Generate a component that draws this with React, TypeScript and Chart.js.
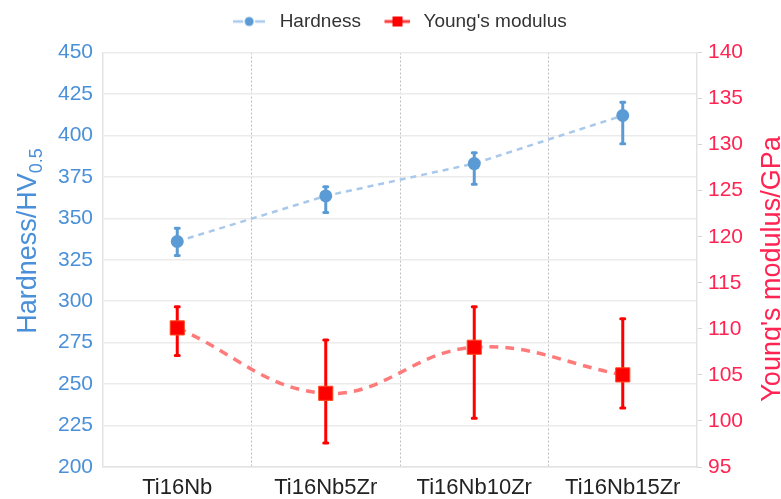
import React, { useEffect, useRef } from 'react';
import { Chart, registerables } from 'chart.js';

Chart.register(...registerables);

// ---- data ----
const categories = ['Ti16Nb', 'Ti16Nb5Zr', 'Ti16Nb10Zr', 'Ti16Nb15Zr'];
const hardness = [336, 363.5, 383, 412];
const hardnessLow = [327.5, 353.5, 370.5, 395];
const hardnessHigh = [344, 369, 389.5, 420];
const modulus = [110.1, 103.0, 108.0, 105.0];
const modulusLow = [107.1, 97.6, 100.3, 101.4];
const modulusHigh = [112.4, 108.8, 112.4, 111.1];
const hardnessTicks = { min: 200, max: 450, step: 25 };
const modulusTicks = { min: 95, max: 140, step: 5 };
const seriesNames = ['Hardness', "Young's modulus"];
const leftTitle = 'Hardness/HV';
const leftTitleSub = '0.5';
const rightTitle = "Young's modulus/GPa";

// ---- styles ----
const FONT = '"Liberation Sans", Arial, Helvetica, sans-serif';
const BLUE = '#4a90d9';
const BLUE_MARK = '#5b9bd5';
const BLUE_LINE = '#a9c9ec';
const RED_TEXT = '#ff2452';
const RED_MARK = '#ff0000';
const RED_LINE = '#ff7b7b';

function makeIcon(kind: 'circle' | 'rect'): HTMLCanvasElement {
  const c = document.createElement('canvas');
  if (kind === 'circle') {
    c.width = 32; c.height = 12;
    const g = c.getContext('2d')!;
    g.strokeStyle = BLUE_LINE; g.lineWidth = 2.5;
    g.beginPath(); g.moveTo(0, 6); g.lineTo(10, 6); g.moveTo(22, 6); g.lineTo(32, 6); g.stroke();
    g.fillStyle = BLUE_MARK;
    g.beginPath(); g.arc(16, 6, 4.5, 0, Math.PI * 2); g.fill();
  } else {
    c.width = 35; c.height = 12;
    const g = c.getContext('2d')!;
    g.strokeStyle = '#ff3b3b'; g.lineWidth = 3;
    g.beginPath(); g.moveTo(9, 6); g.lineTo(35, 6); g.stroke();
    g.fillStyle = RED_MARK;
    g.fillRect(17, 1, 10, 10);
  }
  return c;
}

const errorBars = {
  id: 'errorBars',
  beforeDatasetsDraw(chart: any) {
    const ctx = chart.ctx;
    chart.data.datasets.forEach((ds: any, di: number) => {
      const meta = chart.getDatasetMeta(di);
      const scale = chart.scales[ds.yAxisID];
      ctx.save();
      ctx.strokeStyle = ds.errColor;
      ctx.lineWidth = 3;
      ctx.lineCap = 'round';
      meta.data.forEach((pt: any, i: number) => {
        const x = pt.x;
        const yLo = scale.getPixelForValue(ds.errLow[i]);
        const yHi = scale.getPixelForValue(ds.errHigh[i]);
        ctx.beginPath();
        ctx.moveTo(x, yLo); ctx.lineTo(x, yHi);
        ctx.moveTo(x - 2, yLo); ctx.lineTo(x + 2, yLo);
        ctx.moveTo(x - 2, yHi); ctx.lineTo(x + 2, yHi);
        ctx.stroke();
      });
      ctx.restore();
    });
  },
};

const axisTitles = {
  id: 'axisTitles',
  afterDraw(chart: any) {
    const ctx = chart.ctx;
    const mainFont = `27px ${FONT}`;
    const subFont = `18px ${FONT}`;
    ctx.save();
    ctx.font = mainFont;
    const w1 = ctx.measureText(leftTitle).width;
    ctx.font = subFont;
    const w2 = ctx.measureText(leftTitleSub).width;
    const total = w1 + w2;
    ctx.translate(36, 241);
    ctx.rotate(-Math.PI / 2);
    ctx.fillStyle = BLUE;
    ctx.textAlign = 'left';
    ctx.textBaseline = 'alphabetic';
    ctx.font = mainFont;
    ctx.fillText(leftTitle, -total / 2, 0);
    ctx.font = subFont;
    ctx.fillText(leftTitleSub, -total / 2 + w1, 6);
    ctx.restore();

    ctx.save();
    ctx.translate(780, 269);
    ctx.rotate(-Math.PI / 2);
    ctx.fillStyle = RED_TEXT;
    ctx.font = mainFont;
    ctx.textAlign = 'center';
    ctx.textBaseline = 'alphabetic';
    ctx.fillText(rightTitle, 0, 0);
    ctx.restore();
  },
};

export default function App() {
  const ref = useRef<HTMLCanvasElement | null>(null);
  useEffect(() => {
    if (!ref.current) return;
    Chart.defaults.font.family = FONT;
    const icons = [makeIcon('circle'), makeIcon('rect')];
    const chart = new Chart(ref.current, {
      type: 'line',
      data: {
        labels: categories,
        datasets: [
          {
            label: seriesNames[0],
            data: hardness,
            yAxisID: 'y',
            borderColor: BLUE_LINE,
            borderWidth: 2.5,
            borderDash: [6, 5],
            tension: 0,
            pointStyle: 'circle',
            pointRadius: 6.5,
            pointBackgroundColor: BLUE_MARK,
            pointBorderWidth: 0,
            errLow: hardnessLow,
            errHigh: hardnessHigh,
            errColor: BLUE_MARK,
          } as any,
          {
            label: seriesNames[1],
            data: modulus,
            yAxisID: 'y1',
            borderColor: RED_LINE,
            borderWidth: 3.5,
            borderDash: [9, 7],
            tension: 0.4,
            pointStyle: 'rect',
            pointRadius: 10,
            pointBackgroundColor: RED_MARK,
            pointBorderColor: '#ff4a1f',
            pointBorderWidth: 1,
            errLow: modulusLow,
            errHigh: modulusHigh,
            errColor: RED_MARK,
          } as any,
        ],
      },
      options: {
        animation: false,
        responsive: true,
        maintainAspectRatio: false,
        layout: { padding: { top: 1, left: 14, right: 0, bottom: 0 } },
        plugins: {
          tooltip: { enabled: false },
          subtitle: {
            display: true,
            text: '',
            position: 'top',
            weight: 500,
            padding: 0,
            font: { size: 10, lineHeight: '11.5px' as any },
          } as any,
          legend: {
            display: true,
            position: 'top',
            labels: {
              usePointStyle: true,
              pointStyleWidth: 42,
              padding: 11,
              color: '#333333',
              font: { size: 19 },
              generateLabels: () =>
                seriesNames.map((name, i) => ({
                  text: name,
                  pointStyle: icons[i] as any,
                  fillStyle: 'transparent',
                  strokeStyle: 'transparent',
                  lineWidth: 0,
                  hidden: false,
                  datasetIndex: i,
                  fontColor: '#333333',
                })),
            },
          },
        },
        scales: {
          x: {
            type: 'category',
            offset: true,
            grid: {
              offset: true,
              drawTicks: false,
              lineWidth: 1,
              color: (c: any) =>
                c.type !== 'tick' || c.index === 0 ? 'rgba(0,0,0,0)' : '#bdbdbd',
            },
            border: { display: true, color: '#e3e3e3', width: 1.5, dash: [2, 2] },
            ticks: { color: '#222222', font: { size: 22 }, padding: 8 },
            afterFit: (s: any) => { s.height = 32; },
          },
          y: {
            position: 'left',
            min: hardnessTicks.min,
            max: hardnessTicks.max,
            ticks: { stepSize: hardnessTicks.step, color: BLUE, font: { size: 21 }, padding: 10 },
            grid: { color: '#ebebeb', lineWidth: 1.5, drawTicks: false },
            border: { display: true, color: '#e3e3e3', width: 1.5 },
            afterFit: (s: any) => { s.width = 89; },
          },
          y1: {
            position: 'right',
            min: modulusTicks.min,
            max: modulusTicks.max,
            ticks: { stepSize: modulusTicks.step, color: RED_TEXT, font: { size: 21 }, padding: 6 },
            grid: { drawOnChartArea: false, drawTicks: true, tickLength: 5, color: '#d6d6d6' },
            border: { display: true, color: '#e3e3e3', width: 1.5 },
            afterFit: (s: any) => { s.width = 84; },
          },
        },
      },
      plugins: [errorBars, axisTitles],
    });
    return () => chart.destroy();
  }, []);

  return (
    <div style={{ position: 'fixed', left: 0, top: 0, width: 781, height: 499, background: '#ffffff' }}>
      <canvas ref={ref} />
    </div>
  );
}
